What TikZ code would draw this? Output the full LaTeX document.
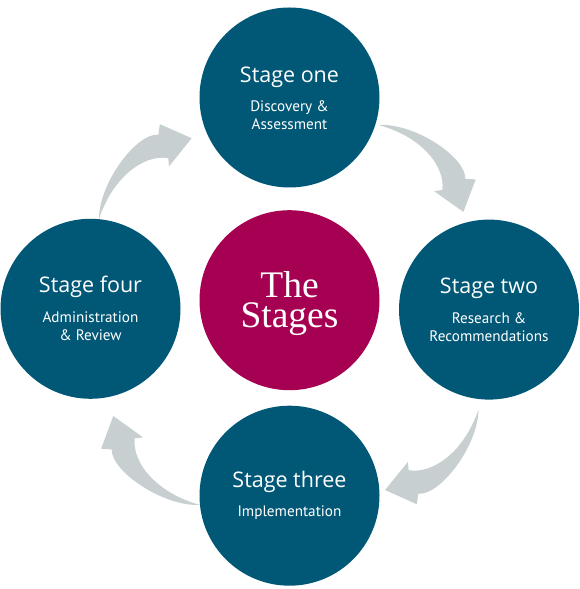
\documentclass[tikz,border=0pt]{standalone}
\usepackage{fontspec}
\newfontfamily\headfont{Open Sans}
\newfontfamily\subfont{PT Sans}
\newfontfamily\hubfont{Liberation Serif}
\usetikzlibrary{calc}
\definecolor{stageteal}{RGB}{0,88,118}
\definecolor{hubred}{RGB}{166,0,82}
\definecolor{arrowgray}{RGB}{200,207,209}
\tikzset{
	stage/.style={circle, fill=stageteal, minimum size=180pt, inner sep=0pt},
	hub/.style={circle, fill=hubred, minimum size=180pt, inner sep=0pt},
	stagetitle/.style={anchor=base, text=white, inner sep=0pt, font=\headfont\fontsize{21.5pt}{24pt}\selectfont},
	stagetext/.style={anchor=base, text=white, inner sep=0pt, font=\subfont\fontsize{15.2pt}{18pt}\selectfont},
	hubtext/.style={text=white, inner sep=0pt, align=center, font=\hubfont\fontsize{37.5pt}{30pt}\selectfont},
	flowarrow/.style={fill=arrowgray}
}
% curved block arrow from tail #1 to tip #2
\newcommand{\cyclearrow}[2]{%
	\fill[flowarrow] (#1)
		.. controls ($(#1)!0.2!(#2)!28pt!90:(#2)$) and ($(#1)!0.7!(#2)!40pt!90:(#2)$) .. ($(#1)!0.815!(#2)!24.5pt!90:(#2)$)
		-- ($(#1)!0.88!(#2)!31.5pt!90:(#2)$)
		-- (#2)
		-- ($(#1)!0.71!(#2)!6.4pt!-90:(#2)$)
		-- ($(#1)!0.75!(#2)!0.3pt!90:(#2)$)
		.. controls ($(#1)!0.62!(#2)!20pt!90:(#2)$) and ($(#1)!0.3!(#2)!22pt!90:(#2)$) .. (#1)
		-- cycle;
}
\begin{document}
\begin{tikzpicture}[x=1pt, y=1pt]
	\useasboundingbox (0,0) rectangle (579,589);

	% The four stages and the hub
	\node[stage] (one) at (289.5,491.5) {};
	\node[stage] (two) at (489,279.4) {};
	\node[stage] (three) at (289.5,93.3) {};
	\node[stage] (four) at (90.5,280.2) {};
	\node[hub] (hub) at (289.5,288.8) {};

	% Stage texts
	\node[stagetitle] (one-title) at ($(one)+(0,14.8)$) {Stage one};
	\node[stagetext] (one-l1) at ($(one)+(0,-14.2)$) {Discovery \&};
	\node[stagetext] (one-l2) at ($(one)+(0,-32.2)$) {Assessment};

	\node[stagetitle] (two-title) at ($(two)+(0,16.4)$) {Stage two};
	\node[stagetext] (two-l1) at ($(two)+(0,-13.7)$) {Research \&};
	\node[stagetext] (two-l2) at ($(two)+(0,-32.1)$) {Recommendations};

	\node[stagetitle] (three-title) at ($(three)+(0,8.1)$) {Stage three};
	\node[stagetext] (three-l1) at ($(three)+(0,-21.2)$) {Implementation};

	\node[stagetitle] (four-title) at ($(four)+(0,16.4)$) {Stage four};
	\node[stagetext] (four-l1) at ($(four)+(0,-13.7)$) {Administration};
	\node[stagetext] (four-l2) at ($(four)+(0,-32.1)$) {\& Review};

	\node[hubtext] (hub-text) at ($(hub)+(0,-3.5)$) {The\\Stages};

	% Ends of the arrows
	\coordinate (a1s) at ($(one.center)+(-17.2:93pt)$);
	\coordinate (a1e) at ($(two.center)+(104.7:101pt)$);
	\coordinate (a2s) at ($(two.center)+(-96:100.5pt)$);
	\coordinate (a2e) at ($(three.center)+(3.4:95.7pt)$);
	\coordinate (a3s) at ($(three.center)+(185.9:90pt)$);
	\coordinate (a3e) at ($(four.center)+(-78:109.6pt)$);
	\coordinate (a4s) at ($(four.center)+(84.6:90.2pt)$);
	\coordinate (a4e) at ($(one.center)+(202.6:106pt)$);

	% Draw the arrows
	\cyclearrow{a1s}{a1e}
	\cyclearrow{a2s}{a2e}
	\cyclearrow{a3s}{a3e}
	\cyclearrow{a4s}{a4e}

\end{tikzpicture}
\end{document}
